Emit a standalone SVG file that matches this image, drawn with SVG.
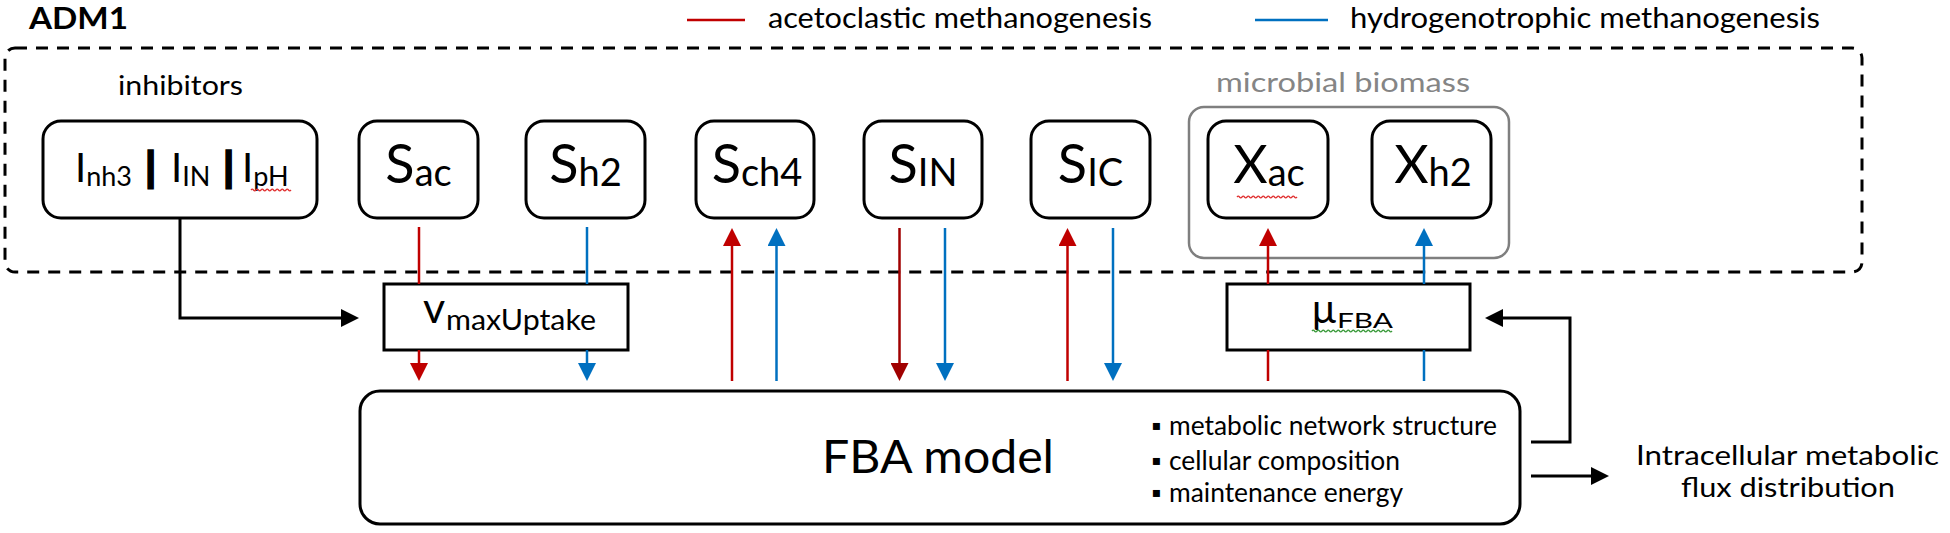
<svg xmlns="http://www.w3.org/2000/svg" width="1950" height="533" viewBox="0 0 1950 533">
<defs>
<style>
.box{fill:#fff;stroke:#000;stroke-width:3}
.t{font-family:Lato,"Liberation Sans",sans-serif;fill:#000}
.c{text-anchor:middle}
.red{stroke:#C00000;stroke-width:2.5;fill:none}
.dred{stroke:#A00000;stroke-width:2.5;fill:none}
.blue{stroke:#0070C0;stroke-width:2.5;fill:none}
.blk{stroke:#000;stroke-width:3;fill:none}
.bar{font-family:"Liberation Sans",sans-serif;font-weight:bold;stroke:#000;stroke-width:1.4}
.sq{fill:none;stroke-width:1.3}
</style>
<marker id="ar" viewBox="0 0 18 18" refX="0" refY="9" markerWidth="18" markerHeight="18" markerUnits="userSpaceOnUse" orient="auto"><path d="M0,0L18,9L0,18z" fill="#C00000"/></marker>
<marker id="adr" viewBox="0 0 18 18" refX="0" refY="9" markerWidth="18" markerHeight="18" markerUnits="userSpaceOnUse" orient="auto"><path d="M0,0L18,9L0,18z" fill="#A00000"/></marker>
<marker id="ab" viewBox="0 0 18 18" refX="0" refY="9" markerWidth="18" markerHeight="18" markerUnits="userSpaceOnUse" orient="auto"><path d="M0,0L18,9L0,18z" fill="#0070C0"/></marker>
<marker id="ak" viewBox="0 0 18 18" refX="0" refY="9" markerWidth="18" markerHeight="18" markerUnits="userSpaceOnUse" orient="auto"><path d="M0,0L18,9L0,18z" fill="#000"/></marker>
</defs>
<rect width="1950" height="533" fill="#fff"/>

<g id="title">
<text class="t" x="29" y="29" font-size="30" font-weight="bold" textLength="99" lengthAdjust="spacingAndGlyphs">ADM1</text>
</g>

<g id="legend">
<path class="red" d="M687 20H745"/>
<text class="t" x="768" y="28" font-size="29" textLength="384" lengthAdjust="spacingAndGlyphs">acetoclastic methanogenesis</text>
<path class="blue" d="M1255 20H1328"/>
<text class="t" x="1350" y="28" font-size="29" textLength="470" lengthAdjust="spacingAndGlyphs">hydrogenotrophic methanogenesis</text>
</g>

<g id="adm1-container">
<rect x="5" y="48" width="1857" height="224" rx="10" fill="none" stroke="#000" stroke-width="3" stroke-dasharray="12 9"/>
<text class="t" x="118" y="95" font-size="26" textLength="125" lengthAdjust="spacingAndGlyphs">inhibitors</text>
</g>

<g id="microbial-biomass">
<rect x="1189" y="107" width="320" height="151" rx="15" fill="none" stroke="#7f7f7f" stroke-width="2.5"/>
<text class="t" x="1216" y="92" font-size="26" style="fill:#858585" textLength="254" lengthAdjust="spacingAndGlyphs">microbial biomass</text>
</g>

<g id="node-inhibitors">
<rect class="box" x="43" y="121" width="274" height="97" rx="18"/>
<text class="t" y="182" font-size="40"><tspan x="75">I</tspan><tspan dy="4" font-size="27">nh3 </tspan><tspan class="bar" x="145" y="180" font-size="40">|</tspan><tspan x="171" y="182">I</tspan><tspan dy="4" font-size="27">IN </tspan><tspan class="bar" x="223" y="180" font-size="40">|</tspan><tspan x="242" y="182">I</tspan><tspan dy="4" font-size="27">pH</tspan></text>
<path class="sq" stroke="#e03030" d="M251 190q1.25 -1.6 2.5 0t2.5 0t2.5 0t2.5 0t2.5 0t2.5 0t2.5 0t2.5 0t2.5 0t2.5 0t2.5 0t2.5 0t2.5 0t2.5 0t2.5 0t2.5 0"/>
</g>

<g id="node-Sac">
<rect class="box" x="359" y="121" width="119" height="97" rx="18"/>
<text class="t c" x="418.5" y="183" font-size="54">S<tspan dy="3" font-size="38">ac</tspan></text>
</g>

<g id="node-Sh2">
<rect class="box" x="526" y="121" width="119" height="97" rx="18"/>
<text class="t c" x="585.5" y="183" font-size="54">S<tspan dy="3" font-size="38">h2</tspan></text>
</g>

<g id="node-Sch4">
<rect class="box" x="696" y="121" width="118" height="97" rx="18"/>
<text class="t c" x="757" y="183" font-size="54">S<tspan dy="3" font-size="38">ch4</tspan></text>
</g>

<g id="node-SIN">
<rect class="box" x="864" y="121" width="118" height="97" rx="18"/>
<text class="t c" x="923" y="183" font-size="54">S<tspan dy="3" font-size="38">IN</tspan></text>
</g>

<g id="node-SIC">
<rect class="box" x="1031" y="121" width="119" height="97" rx="18"/>
<text class="t c" x="1090.5" y="183" font-size="54">S<tspan dy="3" font-size="38">IC</tspan></text>
</g>

<g id="node-Xac">
<rect class="box" x="1208" y="121" width="120" height="97" rx="18"/>
<text class="t c" x="1269" y="183" font-size="53">X<tspan dy="3" font-size="38">ac</tspan></text>
<path class="sq" stroke="#e03030" d="M1237 197q1.25 -1.6 2.5 0t2.5 0t2.5 0t2.5 0t2.5 0t2.5 0t2.5 0t2.5 0t2.5 0t2.5 0t2.5 0t2.5 0t2.5 0t2.5 0t2.5 0t2.5 0t2.5 0t2.5 0t2.5 0t2.5 0t2.5 0t2.5 0t2.5 0t2.5 0"/>
</g>

<g id="node-Xh2">
<rect class="box" x="1372" y="121" width="119" height="97" rx="18"/>
<text class="t c" x="1433" y="183" font-size="53">X<tspan dy="3" font-size="38">h2</tspan></text>
</g>

<g id="node-vmaxUptake">
<rect class="box" x="384" y="284" width="244" height="66"/>
<text class="t" y="323" font-size="43"><tspan x="423">v</tspan><tspan x="446" y="330" font-size="28" textLength="150" lengthAdjust="spacingAndGlyphs">maxUptake</tspan></text>
</g>

<g id="node-muFBA">
<rect class="box" x="1227" y="284" width="243" height="66"/>
<text class="t" y="323" font-size="40"><tspan x="1312">μ</tspan><tspan x="1337" y="328" font-size="22" textLength="56" lengthAdjust="spacingAndGlyphs">FBA</tspan></text>
<path class="sq" stroke="#3a9a3a" d="M1312 331q1.25 -1.6 2.5 0t2.5 0t2.5 0t2.5 0t2.5 0t2.5 0t2.5 0t2.5 0t2.5 0t2.5 0t2.5 0t2.5 0t2.5 0t2.5 0t2.5 0t2.5 0t2.5 0t2.5 0t2.5 0t2.5 0t2.5 0t2.5 0t2.5 0t2.5 0t2.5 0t2.5 0t2.5 0t2.5 0t2.5 0t2.5 0t2.5 0t2.5 0"/>
</g>

<g id="node-FBA">
<rect class="box" x="360" y="391" width="1160" height="133" rx="20"/>
<text class="t" x="822" y="473" font-size="46" textLength="232" lengthAdjust="spacingAndGlyphs">FBA model</text>
<text class="t" font-size="26"><tspan x="1151" y="435">▪</tspan><tspan x="1169" y="435" textLength="328" lengthAdjust="spacingAndGlyphs">metabolic network structure</tspan></text>
<text class="t" font-size="26"><tspan x="1151" y="470">▪</tspan><tspan x="1169" y="470" textLength="231" lengthAdjust="spacingAndGlyphs">cellular composition</tspan></text>
<text class="t" font-size="26"><tspan x="1151" y="502">▪</tspan><tspan x="1169" y="502" textLength="234" lengthAdjust="spacingAndGlyphs">maintenance energy</tspan></text>
</g>

<g id="node-output">
<text class="t" x="1636" y="465" font-size="26" textLength="303" lengthAdjust="spacingAndGlyphs">Intracellular metabolic</text>
<text class="t" x="1681" y="497" font-size="26" textLength="214" lengthAdjust="spacingAndGlyphs">flux distribution</text>
</g>

<g id="connectors">
<path class="blk" d="M180 218V318H341" marker-end="url(#ak)"/>
<path class="red" d="M419 227V284"/>
<path class="red" d="M419 350V363" marker-end="url(#ar)"/>
<path class="blue" d="M587 227V284"/>
<path class="blue" d="M587 350V363" marker-end="url(#ab)"/>
<path class="red" d="M732 381V246" marker-end="url(#ar)"/>
<path class="blue" d="M776.5 381V246" marker-end="url(#ab)"/>
<path class="dred" d="M899.5 228V363" marker-end="url(#adr)"/>
<path class="blue" d="M945 228V363" marker-end="url(#ab)"/>
<path class="red" d="M1067.5 381V246" marker-end="url(#ar)"/>
<path class="blue" d="M1113 228V363" marker-end="url(#ab)"/>
<path class="red" d="M1268 381V350"/>
<path class="red" d="M1268 284V246" marker-end="url(#ar)"/>
<path class="blue" d="M1424 381V350"/>
<path class="blue" d="M1424 284V246" marker-end="url(#ab)"/>
<path class="blk" d="M1531 442H1570V318H1503" marker-end="url(#ak)"/>
<path class="blk" d="M1531 476H1591" marker-end="url(#ak)"/>
</g>
</svg>
